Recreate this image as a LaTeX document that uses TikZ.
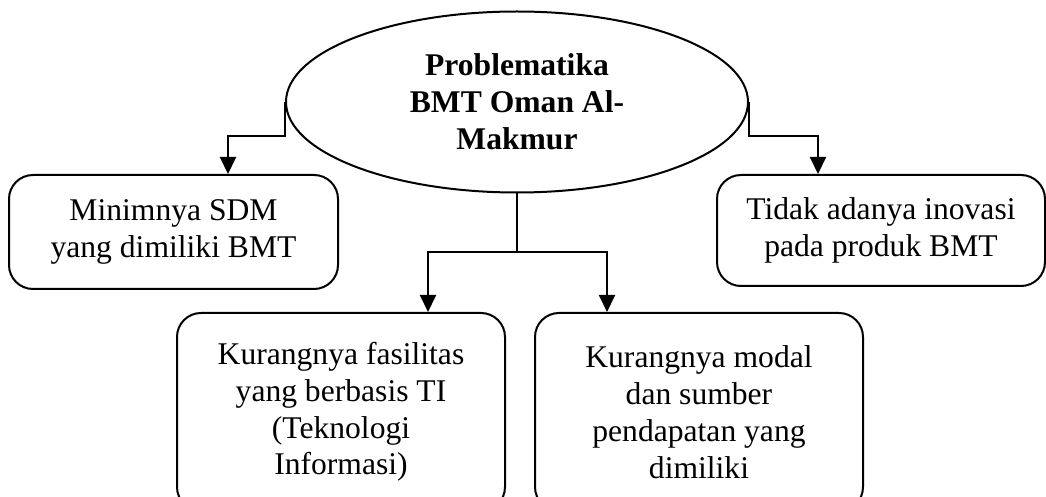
\documentclass[tikz,border=0pt]{standalone}
\usepackage{fontspec}
\setmainfont{Liberation Serif}
\usetikzlibrary{shapes.geometric, arrows.meta, calc}

\begin{document}
\begin{tikzpicture}[x=0.5pt, y=-0.5pt, line width=1pt, >={Triangle[length=8.5pt, width=8pt]},
  kotak/.style={draw, rounded corners=12pt, align=center, inner sep=0pt, font=\fontsize{15.8}{18.4}\selectfont},
  elips/.style={draw, ellipse, align=center, inner sep=0pt, font=\fontsize{15.8}{18.4}\selectfont\bfseries}]
  % 1. batas gambar
  \useasboundingbox (0,0) rectangle (1046,497);
  \clip (0,0) rectangle (1046,497);

  % 2. simpul pusat dan kotak-kotak masalah
  \node[elips, minimum width=231pt, minimum height=90.5pt] (masalah) at (517,102) {Problematika\\BMT Oman Al-\\Makmur};
  \node[kotak, minimum width=164.5pt, minimum height=57pt] (sdm) at (173.5,232) {Minimnya SDM\\yang dimiliki BMT};
  \node[kotak, minimum width=164pt, minimum height=55.5pt] (inovasi) at (881,230.5) {Tidak adanya inovasi\\pada produk BMT};
  \node[kotak, minimum width=164pt, minimum height=99pt] (fasilitas) at (341,412) {Kurangnya fasilitas\\yang berbasis TI\\(Teknologi\\Informasi)};
  \node[kotak, minimum width=164pt, minimum height=99pt] (modal) at (699,412) {Kurangnya modal\\dan sumber\\pendapatan yang\\dimiliki};

  % 3. panah dari simpul pusat
  \draw[->] (masalah.west) -- ++(0,34) -| ($(sdm.north)+(54.5,0)$);
  \draw[->] (masalah.east) -- ++(0,34) -| ($(inovasi.north)+(-63,0)$);
  \draw (masalah.south) -- ++(0,59) coordinate (cabang);
  \draw[->] (cabang) -| ($(fasilitas.north)+(87,0)$);
  \draw[->] (cabang) -| ($(modal.north)+(-92,0)$);
\end{tikzpicture}
\end{document}
